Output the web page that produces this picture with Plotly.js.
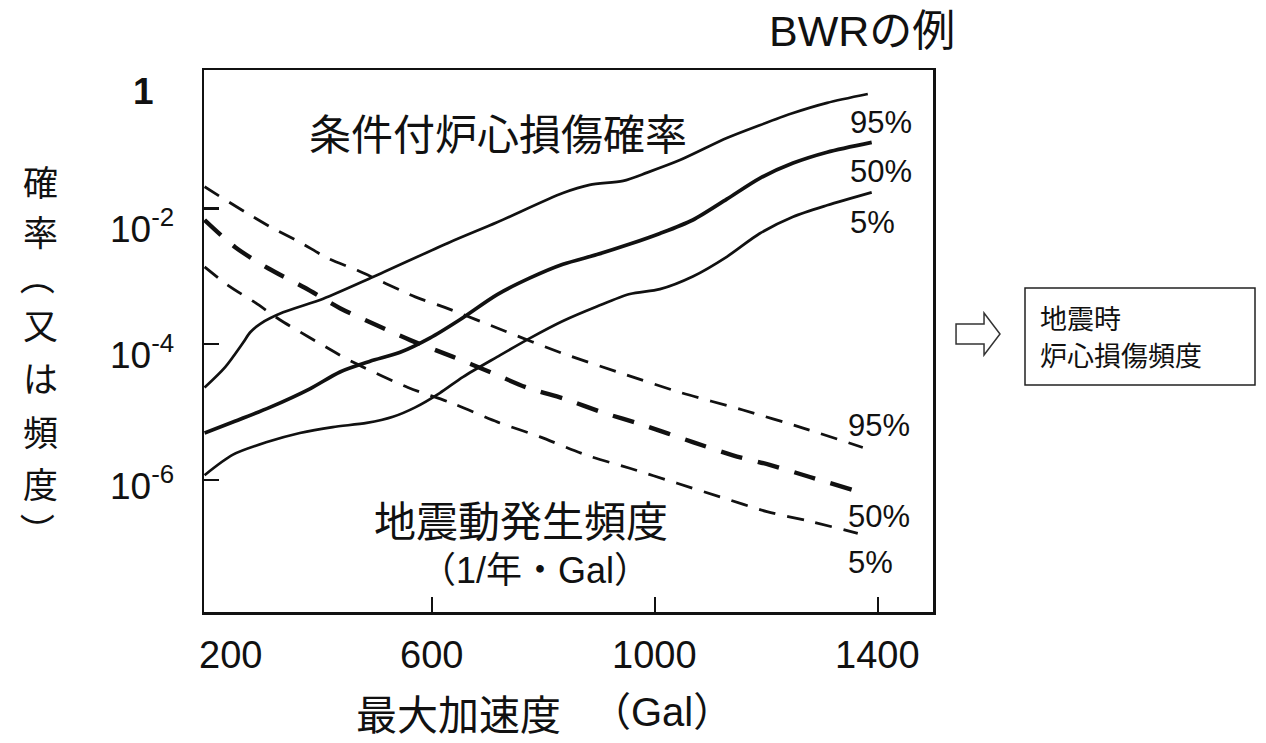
<!DOCTYPE html>
<html>
<head>
<meta charset="utf-8">
<script src="https://cdn.plot.ly/plotly-3.0.1.min.js"></script>
<style>
  html, body { margin: 0; padding: 0; background: #ffffff; }
  #chart { width: 1266px; height: 743px; }
</style>
</head>
<body>
<div id="chart"></div>
<script>
// Peak ground acceleration (Gal) and values for each curve.
// Conditional core damage probability (solid lines)
const ccdp95Gal = [192, 229, 261, 274, 292, 333, 405, 494, 632, 717, 835, 883, 943, 986, 1045, 1129, 1188, 1248, 1309, 1382];
const ccdp95Val = [2.3e-5, 4.6e-5, 1.05e-4, 1.5e-4, 2.0e-4, 2.95e-4, 4.7e-4, 9.8e-4, 3.2e-3, 6.3e-3, 1.7e-2, 2.24e-2, 2.57e-2, 3.4e-2, 5.2e-2, 0.11, 0.17, 0.257, 0.363, 0.49];

const ccdp50Gal = [192, 243, 309, 381, 435, 489, 543, 596, 650, 717, 776, 835, 896, 955, 1009, 1068, 1129, 1188, 1248, 1309, 1389];
const ccdp50Val = [4.9e-6, 7.1e-6, 1.17e-5, 2.2e-5, 3.9e-5, 5.6e-5, 7.6e-5, 1.23e-4, 2.3e-4, 5.4e-4, 9.5e-4, 1.51e-3, 2.1e-3, 3.0e-3, 4.3e-3, 6.8e-3, 1.38e-2, 2.8e-2, 4.7e-2, 6.8e-2, 9.5e-2];

const ccdp5Gal = [192, 243, 304, 363, 422, 483, 530, 570, 614, 656, 717, 776, 835, 896, 955, 1009, 1068, 1129, 1188, 1248, 1309, 1389];
const ccdp5Val = [1.17e-6, 2.35e-6, 3.6e-6, 4.9e-6, 6.0e-6, 6.9e-6, 8.5e-6, 1.17e-5, 1.9e-5, 3.3e-5, 6.5e-5, 1.23e-4, 2.2e-4, 3.6e-4, 5.5e-4, 6.5e-4, 1.0e-3, 1.95e-3, 4.3e-3, 7.6e-3, 1.12e-2, 1.74e-2];

// Ground motion occurrence frequency, 1/(year·Gal) (dashed lines)
const hazard95Gal = [192, 265, 315, 363, 413, 466, 570, 623, 726, 833, 937, 1045, 1158, 1266, 1373];
const hazard95Val = [2.1e-2, 8.9e-3, 5.1e-3, 3.2e-3, 1.86e-3, 1.23e-3, 5.0e-4, 3.5e-4, 1.62e-4, 7.4e-5, 3.8e-5, 1.95e-5, 1.07e-5, 5.8e-6, 3.0e-6];

const hazard50Gal = [192, 247, 306, 372, 435, 501, 561, 638, 704, 770, 839, 907, 977, 1068, 1140, 1206, 1278, 1355];
const hazard50Val = [6.8e-3, 2.7e-3, 1.32e-3, 6.8e-4, 3.4e-4, 1.9e-4, 1.15e-4, 6.5e-5, 3.9e-5, 2.3e-5, 1.55e-5, 9.8e-6, 6.5e-6, 3.6e-6, 2.3e-6, 1.66e-6, 1.1e-6, 7.1e-7];

const hazard5Gal = [192, 234, 283, 327, 378, 426, 457, 557, 636, 718, 794, 878, 955, 1040, 1117, 1201, 1282, 1364];
const hazard5Val = [1.38e-3, 7.4e-4, 4.1e-4, 2.3e-4, 1.29e-4, 7.6e-5, 5.5e-5, 2.3e-5, 1.35e-5, 7.1e-6, 4.3e-6, 2.3e-6, 1.48e-6, 8.9e-7, 5.6e-7, 3.4e-7, 2.4e-7, 1.62e-7];

// Axis ticks and labels
const xTickVals = [200, 600, 1000, 1400];
const xTickText = ['200', '600', '1000', '1400'];
const yTickExp = [0, -2, -4, -6, -8];
const yTickText = ['1', '10<sup>-2</sup>', '10<sup>-4</sup>', '10<sup>-6</sup>', '10<sup>-8</sup>'];

// Texts
const percentLabels = ['95%', '50%', '5%'];
const ccdpTitle = '条件付炉心損傷確率';
const hazardTitle = '地震動発生頻度';
const hazardUnit = '（1/年・Gal）';
const chartTag = 'BWRの例';
const yTitleChars = ['確', '率', '（', '又', 'は', '頻', '度', '）'];
const xTitleMain = '最大加速度';
const xTitleUnit = '（Gal）';
const resultBoxLines = ['地震時', '炉心損傷頻度'];

// ---- layout geometry (pixels) ----
const W = 1266, H = 743;
const M = { l: 204, r: 333, t: 70, b: 131 };
const PW = W - M.l - M.r, PH = H - M.t - M.b;
const px = x => (x - M.l) / PW;          // pixel x -> paper x
const py = y => (H - M.b - y) / PH;      // pixel y -> paper y

const CJK = 'Noto Sans CJK JP, Noto Sans, sans-serif';
const SANS = 'Liberation Sans, Arial, sans-serif';
const MIXED = 'Liberation Sans, Noto Sans CJK JP, sans-serif';

function line(x, y, width, dash) {
  return {
    x: x, y: y, type: 'scatter', mode: 'lines',
    line: { color: '#111111', width: width, dash: dash, shape: 'spline', smoothing: 0.8 },
    hoverinfo: 'skip', showlegend: false
  };
}

const traces = [
  line(ccdp95Gal, ccdp95Val, 2.7, 'solid'),
  line(ccdp50Gal, ccdp50Val, 3.7, 'solid'),
  line(ccdp5Gal, ccdp5Val, 2.7, 'solid'),
  line(hazard95Gal, hazard95Val, 2.8, '17px,12px'),
  line(hazard50Gal, hazard50Val, 4.4, '22px,16px'),
  line(hazard5Gal, hazard5Val, 2.8, '17px,12px')
];

const annotations = [];
function text(t, x, y, size, font, extra) {
  annotations.push(Object.assign({
    text: t, x: px(x), y: py(y), xref: 'paper', yref: 'paper',
    xanchor: 'center', yanchor: 'middle', showarrow: false,
    font: { size: size, family: font, color: '#111111' }
  }, extra || {}));
}

// x tick labels
xTickVals.forEach((v, i) => {
  annotations.push({
    text: xTickText[i], x: v, y: py(655), xref: 'x', yref: 'paper',
    xanchor: 'center', yanchor: 'middle', xshift: i === 0 ? 21 : 0, showarrow: false,
    font: { size: 38, family: SANS, color: '#111111' }
  });
});
// y tick labels
const yLabelShiftY = [-18, -18, -8, -4, 2];
const yLabelShiftX = [-20, 0, 0, 0, 0];
yTickExp.forEach((e, i) => {
  annotations.push({
    text: yTickText[i], x: px(176), y: e, xref: 'paper', yref: 'y',
    xanchor: 'right', yanchor: 'middle', xshift: yLabelShiftX[i], yshift: yLabelShiftY[i], showarrow: false,
    font: { size: 37, family: SANS, color: '#111111', weight: i === 0 ? 'bold' : 'normal' }
  });
});

// curve labels
text(percentLabels[0], 848, 122, 31, SANS, { xanchor: 'left' });
text(percentLabels[1], 848, 171, 31, SANS, { xanchor: 'left' });
text(percentLabels[2], 848, 223, 31, SANS, { xanchor: 'left' });
text(percentLabels[0], 846, 425, 31, SANS, { xanchor: 'left' });
text(percentLabels[1], 846, 516, 31, SANS, { xanchor: 'left' });
text(percentLabels[2], 846, 562, 31, SANS, { xanchor: 'left' });

// group titles inside the plot
text(ccdpTitle, 498, 131, 42, CJK);
text(hazardTitle, 521, 518, 42, CJK);
text(hazardUnit, 535, 570, 36, MIXED);

// top tag
text(chartTag, 862, 31, 43, MIXED);

// vertical y-axis title, one character per row; brackets turned for vertical writing
const yTitleRows = [180, 231, 277, 323, 376, 430, 482, 530];
yTitleChars.forEach((c, i) => {
  const bracket = (c === '（' || c === '）');
  text(c, 40, yTitleRows[i], 35, CJK, bracket ? { textangle: 90 } : {});
});

// x-axis title
text(xTitleMain, 458, 712, 41, CJK);
text(xTitleUnit, 662, 712, 40, MIXED);

// result box text
text(resultBoxLines[0], 1038, 317, 27, CJK, { xanchor: 'left' });
text(resultBoxLines[1], 1038, 354, 27, CJK, { xanchor: 'left' });

// outlined arrow pointing to the result box
const arrowPts = [[956, 324], [984, 324], [984, 313], [1000, 334], [984, 355], [984, 344], [956, 344]];
const arrowPath = 'M ' + arrowPts.map(p => px(p[0]).toFixed(4) + ',' + py(p[1]).toFixed(4)).join(' L ') + ' Z';

const shapes = [
  { type: 'rect', xref: 'paper', yref: 'paper', x0: px(1025), x1: px(1255), y0: py(385), y1: py(288),
    line: { color: '#222222', width: 1.5 }, fillcolor: 'rgba(0,0,0,0)' },
  { type: 'path', xref: 'paper', yref: 'paper', path: arrowPath,
    line: { color: '#333333', width: 1.5 }, fillcolor: '#ffffff' }
];

const layout = {
  width: W, height: H,
  margin: { l: M.l, r: M.r, t: M.t, b: M.b, pad: 0 },
  paper_bgcolor: '#ffffff', plot_bgcolor: '#ffffff',
  showlegend: false,
  xaxis: {
    range: [191, 1499], showgrid: false, zeroline: false,
    showline: true, mirror: true, linecolor: '#111111', linewidth: 2.5,
    ticks: 'inside', ticklen: 15, tickwidth: 2.5, tickcolor: '#111111',
    tickvals: xTickVals.slice(1), showticklabels: false
  },
  yaxis: {
    type: 'log', range: [-7.95, 0.045], showgrid: false, zeroline: false,
    showline: true, mirror: true, linecolor: '#111111', linewidth: 2.5,
    ticks: 'inside', ticklen: 15, tickwidth: 2.5, tickcolor: '#111111',
    tickvals: [1e-2, 1e-4, 1e-6], showticklabels: false
  },
  annotations: annotations,
  shapes: shapes
};

Plotly.newPlot('chart', traces, layout, { staticPlot: true, displayModeBar: false });
</script>
</body>
</html>
